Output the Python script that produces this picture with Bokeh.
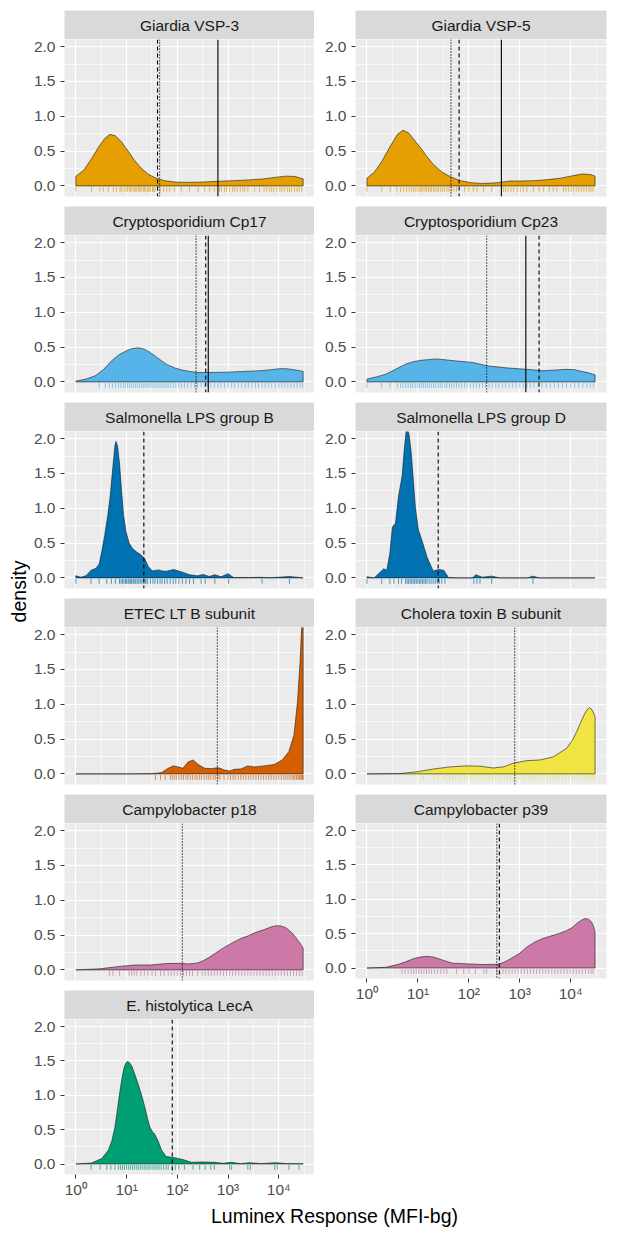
from bokeh.plotting import figure
from bokeh.layouts import column, row
from bokeh.models import Range1d, FixedTicker, Span, Label, NumeralTickFormatter
from bokeh.embed import file_html
from bokeh.resources import INLINE
import numpy as np

# ---------------- data (x in log10(MFI-bg)) ----------------
panel_names = ["Giardia VSP-3", "Giardia VSP-5", "Cryptosporidium Cp17", "Cryptosporidium Cp23",
               "Salmonella LPS group B", "Salmonella LPS group D", "ETEC LT B subunit",
               "Cholera toxin B subunit", "Campylobacter p18", "Campylobacter p39",
               "E. histolytica LecA"]
panel_colors = ["#E69F00", "#E69F00", "#56B4E9", "#56B4E9", "#0072B2", "#0072B2",
                "#D55E00", "#F0E442", "#CC79A7", "#CC79A7", "#009E73"]

vsp3_x = [0.00, 0.15, 0.30, 0.45, 0.57, 0.67, 0.78, 0.90, 1.02, 1.15, 1.28, 1.42, 1.58, 1.75, 1.95, 2.20, 2.50, 2.80, 3.10, 3.40, 3.70, 3.95, 4.15, 4.32, 4.48]
vsp3_y = [0.14, 0.22, 0.38, 0.56, 0.68, 0.74, 0.72, 0.63, 0.51, 0.37, 0.26, 0.17, 0.11, 0.075, 0.055, 0.05, 0.055, 0.065, 0.075, 0.085, 0.10, 0.125, 0.14, 0.135, 0.10]
vsp5_x = [0.00, 0.15, 0.30, 0.45, 0.60, 0.71, 0.82, 0.95, 1.05, 1.18, 1.31, 1.47, 1.63, 1.83, 2.05, 2.25, 2.45, 2.62, 2.80, 3.05, 3.30, 3.55, 3.80, 4.00, 4.22, 4.38, 4.48]
vsp5_y = [0.11, 0.20, 0.36, 0.56, 0.74, 0.80, 0.76, 0.64, 0.55, 0.42, 0.305, 0.20, 0.135, 0.075, 0.045, 0.035, 0.04, 0.05, 0.07, 0.07, 0.075, 0.09, 0.11, 0.14, 0.17, 0.165, 0.14]
cp17_x = [0.00, 0.20, 0.39, 0.55, 0.70, 0.85, 1.01, 1.12, 1.24, 1.35, 1.47, 1.62, 1.78, 1.95, 2.09, 2.25, 2.40, 2.71, 3.00, 3.30, 3.63, 3.85, 4.02, 4.14, 4.25, 4.38, 4.48]
cp17_y = [0.01, 0.04, 0.09, 0.18, 0.30, 0.39, 0.45, 0.48, 0.49, 0.47, 0.42, 0.34, 0.255, 0.20, 0.17, 0.15, 0.135, 0.135, 0.14, 0.15, 0.16, 0.175, 0.19, 0.19, 0.18, 0.165, 0.15]
cp23_x = [0.00, 0.18, 0.37, 0.56, 0.76, 0.91, 1.06, 1.37, 1.76, 2.07, 2.37, 2.76, 3.14, 3.45, 3.70, 3.91, 4.08, 4.22, 4.35, 4.48]
cp23_y = [0.04, 0.07, 0.11, 0.18, 0.255, 0.29, 0.31, 0.33, 0.30, 0.28, 0.23, 0.20, 0.18, 0.16, 0.17, 0.18, 0.175, 0.15, 0.13, 0.10]
lpsb_x = [0.00, 0.10, 0.20, 0.30, 0.40, 0.46, 0.51, 0.57, 0.63, 0.68, 0.73, 0.77, 0.79, 0.82, 0.86, 0.90, 0.94, 0.99, 1.05, 1.12, 1.20, 1.30, 1.36, 1.43, 1.51, 1.63, 1.70, 1.78, 1.93, 2.09, 2.24, 2.40, 2.51, 2.63, 2.74, 2.86, 3.00, 3.11, 3.40, 3.63, 3.85, 4.21, 4.48]
lpsb_y = [0.03, 0.01, 0.03, 0.11, 0.14, 0.20, 0.38, 0.62, 0.90, 1.20, 1.60, 1.90, 1.96, 1.90, 1.65, 1.25, 0.90, 0.66, 0.50, 0.42, 0.37, 0.32, 0.27, 0.16, 0.10, 0.115, 0.10, 0.095, 0.12, 0.085, 0.045, 0.03, 0.05, 0.02, 0.045, 0.015, 0.06, 0.005, 0.005, 0.008, 0.002, 0.02, 0.0]
lpsd_x = [0.00, 0.14, 0.26, 0.33, 0.39, 0.45, 0.50, 0.56, 0.62, 0.69, 0.74, 0.77, 0.80, 0.83, 0.87, 0.95, 1.01, 1.08, 1.18, 1.30, 1.41, 1.51, 1.60, 1.80, 2.07, 2.14, 2.26, 2.45, 2.61, 3.15, 3.26, 3.38, 4.48]
lpsd_y = [0.015, 0.0, 0.08, 0.13, 0.11, 0.35, 0.73, 0.78, 1.17, 1.46, 1.90, 2.10, 2.13, 2.05, 1.80, 1.03, 0.69, 0.54, 0.30, 0.10, 0.12, 0.11, 0.005, 0.0, 0.0, 0.045, 0.01, 0.025, 0.0, 0.0, 0.025, 0.0, 0.0]
etec_x = [0.00, 1.00, 1.49, 1.60, 1.69, 1.82, 1.92, 2.02, 2.11, 2.21, 2.31, 2.41, 2.54, 2.67, 2.80, 2.93, 3.03, 3.12, 3.25, 3.39, 3.52, 3.71, 3.91, 4.07, 4.20, 4.30, 4.37, 4.42, 4.45, 4.48]
etec_y = [0.0, 0.0, 0.003, 0.01, 0.02, 0.08, 0.115, 0.10, 0.08, 0.17, 0.20, 0.135, 0.08, 0.075, 0.09, 0.055, 0.04, 0.065, 0.07, 0.115, 0.10, 0.115, 0.135, 0.20, 0.32, 0.56, 1.04, 1.61, 2.10, 2.90]
ctb_x = [0.00, 0.65, 0.98, 1.31, 1.63, 1.96, 2.22, 2.48, 2.68, 2.88, 3.14, 3.40, 3.66, 3.92, 4.04, 4.12, 4.21, 4.28, 4.33, 4.37, 4.41, 4.44, 4.48]
ctb_y = [0.0, 0.005, 0.03, 0.07, 0.10, 0.115, 0.11, 0.085, 0.10, 0.155, 0.19, 0.20, 0.245, 0.365, 0.49, 0.61, 0.76, 0.87, 0.93, 0.95, 0.93, 0.89, 0.82]
p18_x = [0.00, 0.47, 0.86, 1.17, 1.47, 1.78, 2.01, 2.24, 2.40, 2.52, 2.63, 2.78, 2.94, 3.10, 3.25, 3.40, 3.55, 3.70, 3.86, 3.96, 4.05, 4.15, 4.25, 4.33, 4.40, 4.45, 4.48]
p18_y = [0.0, 0.015, 0.05, 0.07, 0.07, 0.09, 0.095, 0.085, 0.10, 0.135, 0.18, 0.255, 0.33, 0.395, 0.45, 0.49, 0.54, 0.575, 0.62, 0.635, 0.63, 0.60, 0.54, 0.47, 0.40, 0.35, 0.31]
p39_x = [0.00, 0.37, 0.60, 0.76, 0.91, 1.05, 1.18, 1.30, 1.41, 1.55, 1.68, 1.99, 2.30, 2.57, 2.68, 2.76, 2.88, 2.99, 3.15, 3.30, 3.45, 3.61, 3.76, 3.91, 4.03, 4.14, 4.22, 4.28, 4.35, 4.41, 4.45, 4.48]
p39_y = [0.0, 0.01, 0.05, 0.09, 0.135, 0.16, 0.17, 0.16, 0.135, 0.10, 0.07, 0.06, 0.05, 0.055, 0.08, 0.11, 0.16, 0.21, 0.31, 0.38, 0.43, 0.465, 0.50, 0.54, 0.59, 0.66, 0.70, 0.72, 0.71, 0.67, 0.60, 0.52]
leca_x = [0.00, 0.31, 0.51, 0.64, 0.71, 0.77, 0.82, 0.87, 0.91, 0.95, 0.98, 1.01, 1.05, 1.10, 1.16, 1.23, 1.30, 1.36, 1.41, 1.46, 1.51, 1.55, 1.62, 1.69, 1.78, 1.95, 2.11, 2.28, 2.47, 2.73, 2.90, 3.06, 3.25, 3.42, 3.65, 3.94, 4.17, 4.48]
leca_y = [0.0, 0.015, 0.08, 0.20, 0.34, 0.535, 0.80, 1.065, 1.25, 1.40, 1.46, 1.49, 1.48, 1.43, 1.31, 1.16, 0.99, 0.825, 0.67, 0.535, 0.47, 0.44, 0.34, 0.20, 0.11, 0.09, 0.065, 0.025, 0.03, 0.025, 0.01, 0.025, 0.005, 0.02, 0.005, 0.02, 0.005, 0.005]

# rug (individual responses, log10)
vsp3_rug = [0.00, 0.31, 0.48, 0.54, 0.64, 0.74, 0.80, 0.87, 0.90, 0.95, 0.99, 1.02, 1.06, 1.08, 1.11, 1.15, 1.17, 1.20, 1.24, 1.26, 1.29, 1.33, 1.35, 1.38, 1.42, 1.44, 1.47, 1.51, 1.53, 1.56, 1.66, 1.73, 1.79, 1.85, 1.94, 2.08, 2.24, 2.41, 2.54, 2.64, 2.73, 2.83, 2.87, 2.93, 2.97, 3.03, 3.09, 3.13, 3.18, 3.24, 3.29, 3.33, 3.39, 3.52, 3.62, 3.71, 3.76, 3.82, 3.86, 3.90, 3.96, 4.02, 4.06, 4.11, 4.17, 4.21, 4.25, 4.31, 4.36, 4.40, 4.45]
vsp5_rug = [0.00, 0.29, 0.46, 0.59, 0.66, 0.72, 0.78, 0.83, 0.88, 0.92, 0.96, 1.00, 1.04, 1.07, 1.10, 1.14, 1.17, 1.21, 1.24, 1.27, 1.31, 1.34, 1.38, 1.41, 1.45, 1.49, 1.52, 1.57, 1.61, 1.66, 1.71, 1.76, 1.92, 2.00, 2.09, 2.16, 2.29, 2.45, 2.68, 2.72, 2.77, 2.83, 2.88, 2.95, 3.01, 3.07, 3.14, 3.27, 3.38, 3.47, 3.58, 3.66, 3.73, 3.86, 3.91, 3.96, 4.01, 4.06, 4.11, 4.16, 4.21, 4.26, 4.31, 4.36, 4.40, 4.44]
cp17_rug = [0.46, 0.58, 0.66, 0.72, 0.78, 0.84, 0.89, 0.94, 0.98, 1.02, 1.06, 1.10, 1.14, 1.18, 1.22, 1.26, 1.30, 1.34, 1.38, 1.42, 1.46, 1.50, 1.54, 1.58, 1.62, 1.66, 1.70, 1.74, 1.78, 1.82, 1.87, 1.92, 1.97, 2.03, 2.08, 2.14, 2.20, 2.27, 2.34, 2.40, 2.47, 2.53, 2.60, 2.66, 2.73, 2.80, 2.86, 2.93, 3.00, 3.07, 3.13, 3.20, 3.27, 3.34, 3.40, 3.47, 3.54, 3.60, 3.67, 3.73, 3.80, 3.86, 3.93, 4.00, 4.06, 4.12, 4.18, 4.24, 4.30, 4.36, 4.42, 4.47]
cp23_rug = [0.00, 0.29, 0.45, 0.60, 0.66, 0.71, 0.76, 0.81, 0.86, 0.90, 0.95, 0.99, 1.03, 1.07, 1.11, 1.15, 1.19, 1.23, 1.27, 1.31, 1.35, 1.40, 1.44, 1.48, 1.53, 1.57, 1.62, 1.66, 1.71, 1.76, 1.81, 1.86, 1.92, 1.97, 2.03, 2.09, 2.15, 2.21, 2.27, 2.33, 2.40, 2.46, 2.53, 2.59, 2.66, 2.72, 2.79, 2.86, 2.93, 3.00, 3.07, 3.14, 3.21, 3.28, 3.36, 3.44, 3.52, 3.60, 3.68, 3.76, 3.84, 3.92, 4.00, 4.08, 4.16, 4.24, 4.32, 4.39, 4.45]
lpsb_rug = [0.00, 0.30, 0.46, 0.61, 0.70, 0.78, 0.86, 0.89, 0.92, 0.95, 0.98, 1.00, 1.03, 1.05, 1.08, 1.10, 1.13, 1.15, 1.18, 1.21, 1.24, 1.27, 1.30, 1.33, 1.36, 1.38, 1.41, 1.47, 1.52, 1.56, 1.61, 1.66, 1.70, 1.75, 1.80, 1.86, 1.92, 1.97, 2.03, 2.10, 2.17, 2.24, 2.32, 2.47, 2.55, 2.74, 3.01, 3.67, 4.21]
lpsd_rug = [0.00, 0.29, 0.45, 0.53, 0.62, 0.68, 0.76, 0.79, 0.82, 0.85, 0.88, 0.91, 0.94, 0.97, 1.00, 1.03, 1.06, 1.09, 1.12, 1.15, 1.18, 1.22, 1.26, 1.30, 1.34, 1.38, 1.42, 1.47, 1.53, 2.10, 2.16, 2.22, 2.45, 3.26]
etec_rug = [1.57, 1.67, 1.76, 1.86, 1.90, 1.94, 1.98, 2.03, 2.08, 2.12, 2.17, 2.21, 2.26, 2.30, 2.35, 2.39, 2.44, 2.48, 2.53, 2.58, 2.62, 2.66, 2.71, 2.75, 2.80, 2.84, 2.92, 3.00, 3.05, 3.10, 3.14, 3.20, 3.25, 3.30, 3.35, 3.40, 3.45, 3.50, 3.55, 3.60, 3.65, 3.70, 3.75, 3.80, 3.85, 3.90, 3.95, 4.00, 4.05, 4.10, 4.14, 4.18, 4.22, 4.26, 4.29, 4.32, 4.35, 4.38, 4.40, 4.42, 4.44, 4.46, 4.47, 4.48]
ctb_rug = [1.11, 1.31, 1.40, 1.50, 1.56, 1.62, 1.68, 1.74, 1.80, 1.86, 1.92, 1.98, 2.04, 2.10, 2.16, 2.22, 2.28, 2.34, 2.40, 2.46, 2.52, 2.58, 2.64, 2.70, 2.76, 2.82, 2.88, 2.94, 3.00, 3.06, 3.12, 3.18, 3.24, 3.30, 3.36, 3.42, 3.48, 3.54, 3.60, 3.66, 3.72, 3.78, 3.84, 3.90, 3.96, 4.02, 4.08, 4.14, 4.20, 4.26, 4.31, 4.36, 4.40, 4.44, 4.48]
p18_rug = [0.66, 0.73, 0.86, 1.05, 1.10, 1.15, 1.20, 1.28, 1.35, 1.42, 1.50, 1.57, 1.67, 1.74, 1.82, 1.88, 1.94, 2.00, 2.06, 2.12, 2.18, 2.24, 2.30, 2.40, 2.49, 2.55, 2.61, 2.67, 2.73, 2.79, 2.85, 2.91, 2.97, 3.03, 3.09, 3.15, 3.21, 3.27, 3.33, 3.39, 3.45, 3.51, 3.57, 3.63, 3.69, 3.75, 3.81, 3.87, 3.93, 3.99, 4.05, 4.11, 4.17, 4.23, 4.29, 4.35, 4.41, 4.46]
p39_rug = [0.69, 0.75, 0.81, 0.87, 0.92, 0.97, 1.02, 1.07, 1.12, 1.17, 1.22, 1.27, 1.33, 1.39, 1.45, 1.51, 1.57, 1.76, 1.90, 2.00, 2.13, 2.30, 2.35, 2.55, 2.61, 2.67, 2.73, 2.79, 2.85, 2.91, 2.97, 3.03, 3.09, 3.15, 3.21, 3.27, 3.33, 3.39, 3.45, 3.51, 3.57, 3.63, 3.69, 3.75, 3.81, 3.87, 3.93, 3.99, 4.05, 4.11, 4.17, 4.23, 4.29, 4.35, 4.40, 4.44]
leca_rug = [0.30, 0.48, 0.61, 0.69, 0.77, 0.84, 0.88, 0.92, 0.96, 1.00, 1.04, 1.08, 1.12, 1.16, 1.20, 1.24, 1.28, 1.32, 1.36, 1.40, 1.44, 1.48, 1.52, 1.56, 1.60, 1.64, 1.68, 1.73, 1.78, 1.82, 1.90, 1.96, 2.03, 2.14, 2.31, 2.44, 2.55, 2.66, 2.73, 3.03, 3.07, 3.39, 3.44, 3.92, 3.97, 4.20, 4.40]

curves_x = [vsp3_x, vsp5_x, cp17_x, cp23_x, lpsb_x, lpsd_x, etec_x, ctb_x, p18_x, p39_x, leca_x]
curves_y = [vsp3_y, vsp5_y, cp17_y, cp23_y, lpsb_y, lpsd_y, etec_y, ctb_y, p18_y, p39_y, leca_y]
rugs = [vsp3_rug, vsp5_rug, cp17_rug, cp23_rug, lpsb_rug, lpsd_rug, etec_rug, ctb_rug, p18_rug, p39_rug, leca_rug]

# seropositivity cutoffs (log10), None = not drawn
cut_solid = [2.80, 2.64, 2.61, 3.12, None, None, None, None, None, None, None]
cut_dashed = [1.61, 1.81, 2.56, 3.38, 1.34, 1.40, None, None, None, 2.60, 1.90]
cut_dotted = [1.65, 1.65, 2.37, 2.35, None, None, 2.79, 2.90, 2.10, 2.55, None]

x_tick_vals = [0, 1, 2, 3, 4]
x_tick_labels = ["10\u2070", "10\u00b9", "10\u00b2", "10\u00b3", "10\u2074"]
y_tick_vals = [0, 0.5, 1.0, 1.5, 2.0]

# ---------------- styling / layout ----------------
FONT = "Liberation Sans"
X_RANGE = (-0.224, 4.704)
Y_RANGE = (-0.1525, 2.1025)
FW, FH = 251, 157
STRIP_H = 29
GAP = 10
AX_B = 24
TOP = 10


def strip_fig(title, lb, rb, tb=0):
    f = figure(width=lb + FW + rb, height=STRIP_H + tb, x_range=Range1d(0, 1), y_range=Range1d(0, 1),
               toolbar_location=None, output_backend="svg", min_border_left=lb, min_border_right=rb,
               min_border_top=tb, min_border_bottom=0, x_axis_location=None, y_axis_location=None)
    f.grid.visible = False
    f.background_fill_color = "#D9D9D9"
    f.border_fill_color = "white"
    f.outline_line_color = None
    f.add_layout(Label(x=0.5, y=0.5, text=title, text_align="center", text_baseline="middle",
                       text_font=FONT, text_font_size="15.5px", text_color="#1A1A1A"))
    return f


def panel_fig(i, lb, rb, bb, show_x):
    f = figure(width=lb + FW + rb, height=FH + bb, x_range=Range1d(*X_RANGE), y_range=Range1d(*Y_RANGE),
               toolbar_location=None, output_backend="svg", min_border_left=lb, min_border_right=rb,
               min_border_top=0, min_border_bottom=bb, x_axis_location="below" if show_x else None)
    f.background_fill_color = "#EBEBEB"
    f.border_fill_color = "white"
    f.outline_line_color = None
    f.xgrid.ticker = FixedTicker(ticks=x_tick_vals, minor_ticks=[0.5, 1.5, 2.5, 3.5, 4.5])
    f.ygrid.ticker = FixedTicker(ticks=y_tick_vals, minor_ticks=[0.25, 0.75, 1.25, 1.75])
    for g in (f.xgrid, f.ygrid):
        g.grid_line_color = "white"
        g.grid_line_width = 1.2
        g.minor_grid_line_color = "white"
        g.minor_grid_line_width = 0.6
    f.yaxis.ticker = FixedTicker(ticks=y_tick_vals, minor_ticks=[])
    f.yaxis.formatter = NumeralTickFormatter(format="0.0")
    f.yaxis.major_label_standoff = 5
    if show_x:
        f.xaxis.ticker = FixedTicker(ticks=x_tick_vals, minor_ticks=[])
        f.xaxis.major_label_overrides = {v: s for v, s in zip(x_tick_vals, x_tick_labels)}
        f.xaxis.major_label_standoff = 2
    for ax in f.axis:
        ax.axis_line_color = None
        ax.major_tick_line_color = "#333333"
        ax.major_tick_line_width = 1
        ax.major_tick_in = 0
        ax.major_tick_out = 4
        ax.minor_tick_line_color = None
        ax.major_label_text_font = FONT
        ax.major_label_text_font_size = "15.5px"
        ax.major_label_text_color = "#4D4D4D"
    col = panel_colors[i]
    xs, ys = curves_x[i], curves_y[i]
    px = [xs[0]] + list(xs) + [xs[-1]]
    py = [0.0] + list(ys) + [0.0]
    f.patch(px, py, fill_color=col, fill_alpha=1.0, line_color="#1A1A1A", line_width=0.6)
    r = rugs[i]
    f.segment(x0=r, y0=[-0.085] * len(r), x1=r, y1=[-0.015] * len(r),
              line_color=col, line_alpha=0.7, line_width=1)
    for cuts, dash, lw in ((cut_solid, "solid", 1.1), (cut_dashed, "4 3", 1.1), (cut_dotted, "1 2", 1.3)):
        if cuts[i] is not None:
            f.add_layout(Span(location=cuts[i], dimension="height", line_color="black",
                              line_width=lw, line_dash=dash))
    return f


YLAB_W = 30
LB_L, RB_L = 33, 0
LB_R, RB_R = 41, 8

left_items, right_items = [], []
for k in range(6):
    i = 2 * k
    last = (k == 5)
    left_items.append(strip_fig(panel_names[i], LB_L, RB_L, TOP if k == 0 else 0))
    left_items.append(panel_fig(i, LB_L, RB_L, AX_B if last else GAP, last))
for k in range(5):
    i = 2 * k + 1
    last = (k == 4)
    right_items.append(strip_fig(panel_names[i], LB_R, RB_R, TOP if k == 0 else 0))
    right_items.append(panel_fig(i, LB_R, RB_R, AX_B if last else GAP, last))

col_h = TOP + 6 * (STRIP_H + FH + GAP) - GAP + AX_B
ylab = figure(width=YLAB_W, height=col_h, x_range=Range1d(0, YLAB_W), y_range=Range1d(0, col_h),
              toolbar_location=None, output_backend="svg", min_border=0,
              x_axis_location=None, y_axis_location=None)
ylab.grid.visible = False
ylab.outline_line_color = None
ylab.add_layout(Label(x=18.3, y=col_h - 591, text="density", angle=np.pi / 2, text_align="center",
                      text_baseline="middle", text_font=FONT, text_font_size="19.5px",
                      text_color="black"))

total_w = YLAB_W + LB_L + FW + RB_L + LB_R + FW + RB_R
XLAB_H = 30
xlab = figure(width=total_w, height=XLAB_H, x_range=Range1d(0, total_w), y_range=Range1d(0, XLAB_H),
              toolbar_location=None, output_backend="svg", min_border=0,
              x_axis_location=None, y_axis_location=None)
xlab.grid.visible = False
xlab.outline_line_color = None
xlab.add_layout(Label(x=334, y=XLAB_H - 15, text="Luminex Response (MFI-bg)", text_align="center",
                      text_baseline="middle", text_font=FONT, text_font_size="19.5px",
                      text_color="black"))

layout = column(row(ylab, column(*left_items), column(*right_items)), xlab)
open("out.html", "w").write(file_html(layout, INLINE))
